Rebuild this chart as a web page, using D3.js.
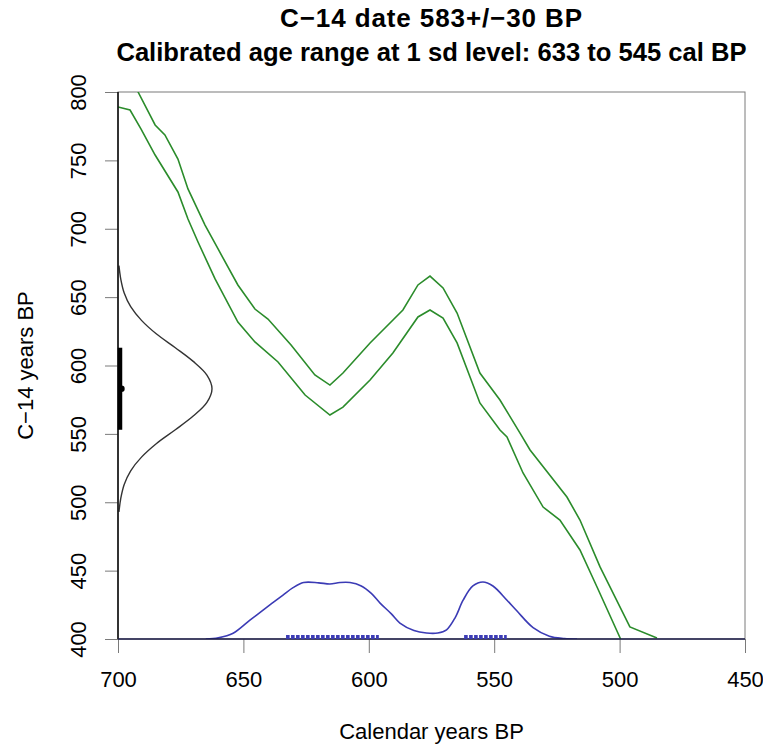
<!DOCTYPE html><html><head><meta charset="utf-8">
<script src="https://cdn.jsdelivr.net/npm/d3@7"></script>
<style>
  body { margin: 0; background: #fff; }
  text { font-family: "Liberation Sans", Arial, sans-serif; }
</style>
</head>
<body><svg id="chart"></svg>
<script>

// radiocarbon date
var c14Mean = 583, c14Sd = 30;

var dateAges    = [493, 503, 513, 523, 533, 543, 553, 563, 573, 583, 593, 603, 613, 623, 633, 643, 653, 663, 673];
var dateHeights = [0.01, 0.03, 0.066, 0.135, 0.25, 0.41, 0.61, 0.80, 0.946, 1, 0.946, 0.80, 0.61, 0.41, 0.25, 0.135, 0.066, 0.03, 0.01];

// calibration curve envelope (cal BP, C-14 BP)
var upperYears = [700, 692, 685.2, 681.3, 676.1, 672.1, 665.3, 660.1, 652.2, 645.4, 640.2, 631, 621.5, 615.5, 610.3, 599.5, 586.4, 580.4, 575.6, 570.4, 564.8, 555.7, 547.7, 539.7, 535.7, 521, 515.8, 507.8, 495.9, 485.1];
var upperC14   = [828, 800, 775.9, 768.6, 751, 729.1, 702.7, 685.2, 658.9, 641.3, 634, 615, 593.1, 585.7, 594.5, 616.5, 640.6, 658.9, 665.4, 656.7, 638.4, 594.5, 574.8, 550.6, 538.2, 503.8, 487, 452.7, 408.8, 400.7];
var lowerYears = [700, 695.2, 690.8, 685.2, 676.1, 672.1, 668.1, 661.3, 652.2, 645.4, 636.2, 625.4, 615.5, 610.3, 599.5, 590.4, 580.4, 575.6, 570.4, 564.8, 555.7, 547.7, 544.9, 538.5, 530.5, 523.8, 515.8, 509, 499.6];
var lowerC14   = [789, 786.8, 772.9, 753.9, 726.9, 707.1, 690.3, 663.3, 631.8, 617.2, 602.6, 578.4, 563.8, 569.6, 589.4, 609.1, 635.5, 640.6, 634.7, 616.5, 572.6, 552.8, 547.7, 521.4, 496.5, 487, 465.1, 438, 400];

// calibrated probability (cal BP, relative density)
var calYears = [665, 660, 654.1, 647.4, 640.6, 634.2, 630.2, 626, 620, 615.5, 611.5, 607.5, 603, 599, 595.5, 591, 587.6, 582, 577, 572.5, 569, 565.5, 562.4, 558.5, 554.5, 550.5, 544.9, 540.9, 534.5, 528, 522, 517];
var calProb  = [0, 0.02, 0.1, 0.33, 0.56, 0.77, 0.9, 0.99, 0.985, 0.965, 0.99, 0.99, 0.93, 0.8, 0.63, 0.44, 0.28, 0.15, 0.105, 0.105, 0.16, 0.38, 0.68, 0.93, 1, 0.93, 0.68, 0.49, 0.2, 0.05, 0.01, 0];

// 1 sd ranges
var ranges = [[633, 596], [562, 545]];

var xTicks = [700, 650, 600, 550, 500, 450],
    yTicks = [400, 450, 500, 550, 600, 650, 700, 750, 800];

var width = 763, height = 745;
var margin = {top: 92, right: 18, bottom: 106, left: 118};

var svg = d3.select("#chart")
    .attr("width", width)
    .attr("height", height);

var x = d3.scaleLinear().domain([700, 450]).range([margin.left, width - margin.right]);
var y = d3.scaleLinear().domain([400, 800]).range([height - margin.bottom, margin.top]);

svg.append("clipPath").attr("id", "clip")
  .append("rect")
    .attr("x", x(700)).attr("y", y(800))
    .attr("width", x(450) - x(700)).attr("height", y(400) - y(800));

var frame = "#7a7a7a";

// axes
var xAxis = svg.append("g")
    .attr("transform", "translate(0," + y(400) + ")")
    .call(d3.axisBottom(x).tickValues(xTicks).tickSize(14).tickPadding(18).tickFormat(d3.format("d")));

var yAxis = svg.append("g")
    .attr("transform", "translate(" + x(700) + ",0)")
    .call(d3.axisLeft(y).tickValues(yTicks).tickSize(13).tickFormat(d3.format("d")));

[xAxis, yAxis].forEach(function(g) {
  g.select(".domain").remove();
  g.selectAll(".tick line").attr("stroke", frame);
  g.selectAll(".tick text").attr("fill", "#000").style("font-size", "22px")
    .style("font-family", "'Liberation Sans', Arial, sans-serif");
});

yAxis.selectAll(".tick text")
    .attr("x", 0).attr("dy", 0)
    .attr("transform", "translate(-32,0) rotate(-90)")
    .style("text-anchor", "middle");

// frame
svg.append("rect")
    .attr("x", x(700)).attr("y", y(800))
    .attr("width", x(450) - x(700)).attr("height", y(400) - y(800))
    .attr("fill", "none").attr("stroke", frame).attr("stroke-width", 1);

var plot = svg.append("g").attr("clip-path", "url(#clip)");

// calibration curve
var line = d3.line().x(function(d) { return x(d[0]); }).y(function(d) { return y(d[1]); });

plot.append("path")
    .datum(d3.zip(upperYears, upperC14))
    .attr("d", line)
    .attr("fill", "none").attr("stroke", "#2b8c2b").attr("stroke-width", 1.6);

plot.append("path")
    .datum(d3.zip(lowerYears, lowerC14))
    .attr("d", line)
    .attr("fill", "none").attr("stroke", "#2b8c2b").attr("stroke-width", 1.6);

// calibrated distribution
var calScale = d3.scaleLinear().domain([0, 1]).range([y(400), y(441.7)]);

plot.append("path")
    .datum(d3.zip(calYears, calProb))
    .attr("d", d3.line().curve(d3.curveCatmullRom.alpha(0.5))
      .x(function(d) { return x(d[0]); })
      .y(function(d) { return calScale(d[1]); }))
    .attr("fill", "none").attr("stroke", "#3b3bb5").attr("stroke-width", 1.6);

// date distribution
var dateScale = d3.scaleLinear().domain([0, 1]).range([x(700), x(700) + 94]);

plot.append("path")
    .datum(d3.zip(dateAges, dateHeights))
    .attr("d", d3.line().curve(d3.curveCatmullRom)
      .x(function(d) { return dateScale(d[1]); })
      .y(function(d) { return y(d[0]); }))
    .attr("fill", "none").attr("stroke", "#333").attr("stroke-width", 1.4);

// baselines
svg.append("line")
    .attr("x1", x(700)).attr("x2", x(700))
    .attr("y1", y(800)).attr("y2", y(400))
    .attr("stroke", "#111").attr("stroke-width", 1.6);

svg.append("line")
    .attr("x1", x(700)).attr("x2", x(450))
    .attr("y1", y(400)).attr("y2", y(400))
    .attr("stroke", "#1c1c48").attr("stroke-width", 1.6);

// 1 sd ranges
svg.selectAll(".range")
  .data(ranges)
  .enter().append("line")
    .attr("class", "range")
    .attr("x1", function(d) { return x(d[0]); })
    .attr("x2", function(d) { return x(d[1]); })
    .attr("y1", y(400) - 2).attr("y2", y(400) - 2)
    .attr("stroke", "#3b3bb5").attr("stroke-width", 4)
    .attr("stroke-dasharray", "3.6,1.4");

// measured date +/- 1 sd
svg.append("line")
    .attr("x1", x(700) + 2).attr("x2", x(700) + 2)
    .attr("y1", y(c14Mean + c14Sd)).attr("y2", y(c14Mean - c14Sd))
    .attr("stroke", "#000").attr("stroke-width", 4.5);

svg.append("circle")
    .attr("cx", x(700) + 3.5).attr("cy", y(c14Mean))
    .attr("r", 3.2).attr("fill", "#000");

// titles
svg.append("text")
    .attr("x", (x(700) + x(450)) / 2).attr("y", 27)
    .attr("text-anchor", "middle")
    .style("font-size", "26px").style("font-weight", "bold")
    .style("letter-spacing", "0.9px")
    .text("C\u221214 date " + c14Mean + "+/\u2212" + c14Sd + " BP");

svg.append("text")
    .attr("x", (x(700) + x(450)) / 2).attr("y", 61)
    .attr("text-anchor", "middle")
    .style("font-size", "25.6px").style("font-weight", "bold")
    .text("Calibrated age range at 1 sd level: 633 to 545 cal BP");

svg.append("text")
    .attr("x", (x(700) + x(450)) / 2).attr("y", 739)
    .attr("text-anchor", "middle")
    .style("font-size", "22px")
    .text("Calendar years BP");

svg.append("text")
    .attr("transform", "translate(33," + (y(800) + y(400)) / 2 + ") rotate(-90)")
    .attr("text-anchor", "middle")
    .style("font-size", "22px")
    .text("C\u221214 years BP");

</script>
</body></html>
